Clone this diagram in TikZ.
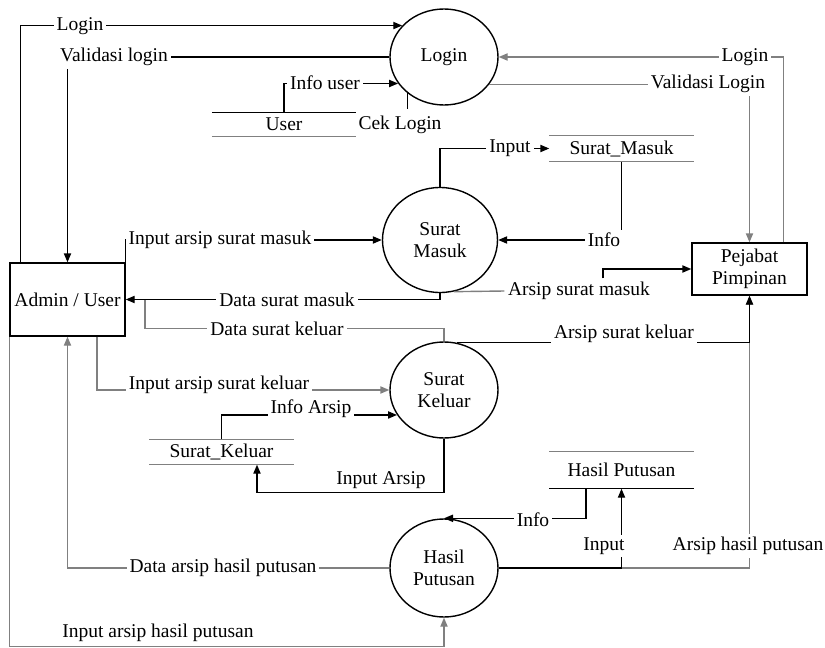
\documentclass[tikz,border=0pt]{standalone}
\usepackage{fontspec}
\setmainfont{Liberation Serif}
\usepackage{tikz}
\usetikzlibrary{shapes, arrows.meta, positioning, calc}

\begin{document}
\begin{tikzpicture}[x=0.5pt, y=-0.5pt, line width=0.7pt,
  >={Triangle[length=4.5pt, width=3.6pt]},
  font=\fontsize{9.75}{11}\selectfont,
  proses/.style={ellipse, draw, minimum width=54pt, minimum height=48pt, inner sep=0pt, align=center},
  entitas/.style={rectangle, draw, minimum width=57.5pt, inner sep=1pt, align=center},
  simpan/.style={minimum width=71.5pt, inner sep=0pt},
  ket/.style={fill=white, inner sep=1.5pt},
  abu/.style={black!50}]
\useasboundingbox (0,0) rectangle (825,648);

% proses dan entitas
\node (login) [proses] at (444,57) {Login};
\node (sm) [proses, minimum width=57.5pt, minimum height=52.5pt] at (440,240) {Surat\\Masuk};
\node (sk) [proses] at (444,390) {Surat\\Keluar};
\node (hp) [proses, minimum height=49pt] at (444,568) {Hasil\\Putusan};
\node (admin) [entitas, minimum height=36.5pt] at (67.5,299.5) {Admin / User};
\node (pejabat) [entitas, minimum height=26pt] at (749.5,269) {Pejabat\\Pimpinan};

% data store
\node (user) [simpan, minimum height=11.5pt] at (284,124.5) {User};
\node (smstore) [simpan, minimum height=12.5pt] at (621.5,148.5) {Surat\_Masuk};
\node (skstore) [simpan, minimum height=12pt] at (221.5,452) {Surat\_Keluar};
\node (hpstore) [simpan, minimum height=18pt] at (621.5,470) {Hasil Putusan};
\draw (user.north west) -- (user.north east);
\draw[abu] (user.south west) -- (user.south east);
\draw[abu] (smstore.north west) -- (smstore.north east) (smstore.south west) -- (smstore.south east);
\draw[abu] (skstore.north west) -- (skstore.north east) (skstore.south west) -- (skstore.south east);
\draw[abu] (hpstore.north west) -- (hpstore.north east);
\draw (hpstore.south west) -- (hpstore.south east);

% label ujung
\node (cek) at (400,125) {Cek Login};
\node (asm) [inner sep=1.5pt] at (579,291) {Arsip surat masuk};
\coordinate (gabung) at (145,299.5);

% alur login
\draw[->] (admin.north west) ++(11,0) |- (login.143);
\draw[->] (login.west) -| (admin.north);
\draw[->] (user.north) |- (login.210);
\draw (login.225) -- (login.225 |- cek.north);
\draw[->, abu] (pejabat.north east) ++(-24,0) |- (login.east);
\draw[->, abu] (login.-31) -| (pejabat.north);

% alur surat masuk
\draw[->] (sm.north) |- (smstore.west);
\draw[->] (smstore.south) |- (sm.east);
\draw[->] (admin.north east) |- (sm.west);
\draw[->] (sm.south) |- (admin.east);
\draw[abu] (sk.north) -- ++(0,-13) -| (gabung);
\draw[abu] (sm.-75) -- (asm.west);
\draw[->] (asm.north) ++(24,0) |- (pejabat.west);

% alur hasil putusan
\draw[->, abu] (hp.east) -| (pejabat.south);
\draw[->] (hp.east) -| (hpstore.south);
\draw[->] ($(hpstore.south)+(-35.5,0)$) |- (hp.north);
\draw[->, abu] (hp.west) -| (admin.south);
\draw[->, abu] (admin.south west) -- ++(0,310) -| (hp.south);

% alur surat keluar
\draw[->] (sk.75) -| (pejabat.south);
\draw[->, abu] (admin.south) ++(29.5,0) |- (sk.west);
\draw[->] (skstore.north) |- (sk.208);
\draw[->] (sk.south) -- ++(0,54) -| ($(skstore.south)+(35.5,0)$);

% label alur
\node (tLogin) [ket] at (80,26) {Login};
\node (tValidasi) [ket] at (114,57) {Validasi login};
\node (tInfoUser) [ket] at (325,83) {Info user};
\node (tLogin2) [ket] at (745,57) {Login};
\node (tValidasi2) [ket] at (708,84) {Validasi Login};
\node (tInput) [ket] at (510,148) {Input};
\node (tInfo) [ket] at (604,240) {Info};
\node (tInSM) [ket] at (220,240) {Input arsip surat masuk};
\node (tDataSM) [ket] at (287,300) {Data surat masuk};
\node (tDataSK) [ket] at (277,329) {Data surat keluar};
\node (tArsipSK) [ket] at (624,334) {Arsip surat keluar};
\node (tInSK) [ket] at (219,385) {Input arsip surat keluar};
\node (tInfoArsip) [ket] at (311,409) {Info Arsip};
\node (tInArsip) at (381,480) {Input Arsip};
\node (tInfoHP) [ket] at (533,520) {Info};
\node (tInHP) [ket] at (604,546) {Input};
\node (tArsipHP) [ket] at (748,546) {Arsip hasil putusan};
\node (tDataHP) [ket] at (223,568) {Data arsip hasil putusan};
\node (tInputHP) at (158,633) {Input arsip hasil putusan};
\end{tikzpicture}
\end{document}
